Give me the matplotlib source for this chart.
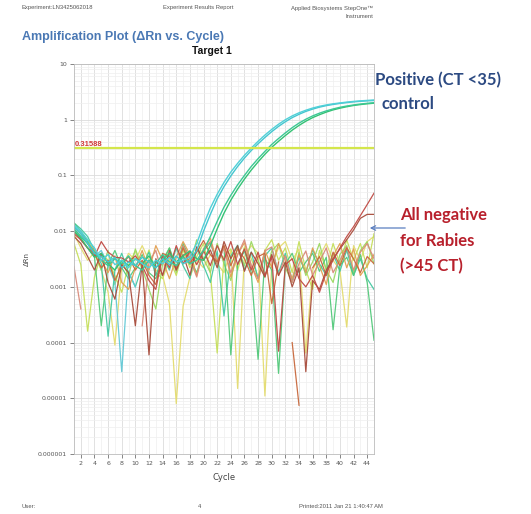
import numpy as np
import matplotlib
matplotlib.use("Agg")
import matplotlib.pyplot as plt
from matplotlib.ticker import FixedLocator, LogLocator, NullFormatter

W, H = 531, 514
cycles = list(range(1, 46))
threshold = 0.31588

# positive control curves (cyan x2, green x2)
pos_cyan1 = [13e-3, 10e-3, 7e-3, 5e-3, 3e-3, 3.8e-3, 2.5e-3, 3e-3, 2.2e-3, 3.2e-3, 2.6e-3, 2.2e-3, 3e-3, 2.6e-3, 3.4e-3, 2.8e-3, 3e-3,
             0.0035, 0.006, 0.013, 0.026, 0.046, 0.075, 0.115, 0.165, 0.23, 0.31, 0.41, 0.53, 0.67, 0.83, 1.0, 1.17, 1.33,
             1.48, 1.62, 1.74, 1.84, 1.93, 2.0, 2.07, 2.13, 2.18, 2.22, 2.26]
pos_cyan2 = [12e-3, 9e-3, 6e-3, 4e-3, 3.5e-3, 2.8e-3, 3.4e-3, 2.2e-3, 2.8e-3, 2.4e-3, 3.4e-3, 2.8e-3, 2.2e-3, 3.2e-3, 2.5e-3, 3.6e-3, 2.6e-3,
             0.003, 0.0045, 0.010, 0.020, 0.038, 0.063, 0.098, 0.145, 0.205, 0.28, 0.37, 0.48, 0.61, 0.76, 0.92, 1.09, 1.25,
             1.41, 1.55, 1.68, 1.79, 1.88, 1.96, 2.03, 2.09, 2.14, 2.18, 2.21]
pos_green1 = [11e-3, 8e-3, 6e-3, 4.2e-3, 3e-3, 2.4e-3, 3.2e-3, 2.6e-3, 3.6e-3, 2.4e-3, 2e-3, 3e-3, 2.6e-3, 3.8e-3, 2.8e-3, 2.4e-3, 3.4e-3, 2.6e-3,
              0.003, 0.0045, 0.008, 0.015, 0.027, 0.044, 0.068, 0.10, 0.145, 0.20, 0.27, 0.36, 0.46, 0.58, 0.72, 0.87,
              1.02, 1.17, 1.31, 1.44, 1.56, 1.67, 1.76, 1.84, 1.91, 1.97, 2.02]
pos_green2 = [10e-3, 7.5e-3, 5e-3, 3.4e-3, 4e-3, 2.6e-3, 2e-3, 3e-3, 2.4e-3, 3.2e-3, 2.6e-3, 3.6e-3, 2.2e-3, 3e-3, 4e-3, 2.8e-3, 3.6e-3, 4.4e-3, 3.2e-3,
              0.003, 0.0055, 0.011, 0.021, 0.036, 0.057, 0.086, 0.125, 0.175, 0.24, 0.32, 0.41, 0.52, 0.65, 0.79,
              0.94, 1.09, 1.23, 1.37, 1.50, 1.61, 1.71, 1.80, 1.87, 1.93, 1.98]

# negative samples (noise), None = no value
neg_red1 = [9e-3, 7e-3, 5e-3, 3.5e-3, 6.5e-3, 4.2e-3, 3.4e-3, 3.3e-3, 2.8e-3, 3.6e-3, 2.4e-3, 1.3e-3, 0.9e-3, 3.8e-3, 2.2e-3,
            5.5e-3, 2.6e-3, 4.4e-3, 2.5e-3, 4.5e-3, 2.4e-3, 5.5e-3, 3e-3, 6.5e-3, 2.5e-3, 4.8e-3, 2e-3, 4.2e-3, 1.6e-3, 3.5e-3,
            7e-5, 2.5e-3, 3.2e-3, 1.4e-3, 1.0e-3, 1.6e-3, 0.8e-3, 1.8e-3, 3e-3, 5e-3, 8e-3, 12e-3, 19e-3, 30e-3, 48e-3]
neg_red2 = [8e-3, 6e-3, 3.5e-3, 2e-3, 4e-3, 1.2e-3, 0.6e-3, 2.5e-3, 1.8e-3, 0.2e-3, 2.6e-3, 6e-5, 3.2e-3, 1.6e-3, 4.5e-3,
            2e-3, 3.8e-3, 1.6e-3, 5.2e-3, 3e-3, 4.6e-3, 2.2e-3, 6.5e-3, 3.2e-3, 5.5e-3, 1.9e-3, 4.2e-3, 2.6e-3, 1.5e-3, 3.8e-3,
            1.6e-3, 2.8e-3, 1.0e-3, 2.2e-3, 3e-5, 1.3e-3, 0.9e-3, 2.0e-3, 3.2e-3, 4.8e-3, 7e-3, 10.5e-3, 17e-3, 20e-3, 20e-3]
neg_brown = [10e-3, 7e-3, 5e-3, 4e-3, 2.2e-3, 3e-3, 1.3e-3, 2.5e-3, 3.5e-3, 2e-3, 3e-3, 1.6e-3, 1.1e-3, 4e-3, 3.5e-3,
             2.2e-3, 5e-3, 2.6e-3, 4.2e-3, 6.8e-3, 3.8e-3, 2.8e-3, 5.6e-3, 2.4e-3, 4.8e-3, 3.2e-3, 1.6e-3, 3.5e-3, 4e-3, 0.5e-3,
             2.8e-3, None, 1e-4, 7.5e-6, None, 2.2e-3, 3.5e-3, 1.6e-3, 4.2e-3, 2.4e-3, 5e-3, 3.2e-3, 1.8e-3, 3.5e-3, 2.6e-3]
neg_pink = [2.3e-3, 4e-4, None, None, None, None, None, None, None, None, 2e-4, 2.8e-3, 4.5e-3, 1.6e-3, 3.8e-3,
            2e-3, 5.5e-3, 3.2e-3, 1.5e-3, 4.8e-3, 6.5e-3, 2.6e-3, 5e-3, 1.8e-3, 3.8e-3, 7e-3, 2.4e-3, 1.4e-3, 4.4e-3, 5.2e-3,
            1.6e-3, 3.6e-3, 1.2e-3, 2.6e-3, 4.4e-3, 1.6e-3, 2.8e-3, 5e-3, 1.8e-3, 3e-3, 5.2e-3, 2e-3, 4.2e-3, 6e-3, 3.2e-3]
neg_orange = [11e-3, 8e-3, 6e-3, 4.5e-3, 3e-3, 1.8e-3, 3.6e-3, 1.2e-3, 0.9e-3, 2.2e-3, 4.5e-3, 2e-3, 5.5e-3, 3e-3, 1.4e-3,
              3.4e-3, 6.5e-3, 3.8e-3, 1.6e-3, 4.8e-3, 7.5e-3, 2.8e-3, 5.2e-3, 1.5e-3, 3.8e-3, 6.2e-3, 2.4e-3, 1.2e-3, 4.6e-3, 2.2e-3,
              6e-3, 3e-3, 1.4e-3, 3.8e-3, 1.8e-3, 5e-3, 2.4e-3, 1.1e-3, 3.6e-3, 6e-3, 2.2e-3, 4.8e-3, 1.6e-3, 2.4e-3, 3.8e-3]
neg_yellow = [9e-3, 5e-3, 3e-3, 4.2e-3, 2e-3, 0.8e-3, 9e-5, 2.2e-3, 4e-3, 3e-3, 5.5e-3, 3e-3, 2e-3, 1.6e-3, 0.5e-3,
              8e-6, 4.5e-4, 1.5e-3, 3e-3, 2.2e-3, 3.8e-3, 2.6e-3, 1.8e-3, 4.5e-3, 1.5e-5, 3.5e-3, 5.5e-3, 4e-3, 1.1e-5, 2.5e-3,
              5e-3, 6.5e-3, 3e-3, 4.8e-3, 6.5e-5, 2e-3, 3.5e-3, 6e-3, 3e-3, 2e-3, 1.9e-4, 5.5e-3, 3e-3, 6.5e-3, 8e-3]
neg_ygreen = [6e-3, 2.5e-3, 1.6e-4, 1.5e-3, 4e-3, 3e-3, 1.6e-3, 0.8e-3, 2.5e-3, 4.4e-3, 2e-3, 4.6e-3, 1.8e-3, 1.4e-3, 3.2e-3,
              1.6e-3, 4.6e-3, 2.2e-3, 3.5e-3, 6e-3, 1.8e-3, 6.5e-5, 3.5e-3, 4.8e-3, 2e-3, 5.2e-3, 3.2e-3, 1.5e-3, 4.5e-3, 7e-3,
              3e-3, 5e-3, 1.8e-3, 6.5e-3, 2e-3, 0.9e-3, 4.5e-3, 2e-3, 6e-3, 2.6e-3, 7e-3, 3e-3, 6e-3, 2.2e-3, 9e-3]
neg_lgreen = [12e-3, 9e-3, 7e-3, 4e-3, 2e-3, 4.5e-3, 1.1e-3, 3e-3, 1.6e-3, 4.8e-3, 2.2e-3, 0.9e-3, 0.4e-3, 2.6e-3, 5e-3,
              1.8e-3, 5.5e-3, 2.5e-3, 7e-3, 3.2e-3, 1.8e-3, 6e-3, 2.6e-3, 1.3e-3, 5.2e-3, 2.4e-3, 6.5e-3, 3e-3, 1.5e-3, 4.4e-3,
              6e-3, 2.2e-3, 1.2e-3, 4.2e-3, 1.6e-3, 2.8e-3, 6e-3, 2e-3, 1.2e-3, 3.8e-3, 5.5e-3, 1.8e-3, 4.5e-3, 6.5e-3, 2.6e-3]
neg_green = [14e-3, 10e-3, 6.5e-3, 3.5e-3, 2e-4, 2.5e-3, 4.5e-3, 2.2e-3, 1.4e-3, 2.2e-3, 3.8e-3, 1.8e-3, 1.4e-3, 3e-3, 5e-3,
             2.2e-3, 6e-3, 3.2e-3, 1.8e-3, 4.4e-3, 6.2e-3, 2.6e-3, 5.2e-3, 6e-5, 2.6e-3, 4.4e-3, 1.8e-3, 5e-5, 3.2e-3, 2e-3,
             2.8e-5, 2.6e-3, 4e-3, 1.8e-3, 2.8e-3, 4e-3, 1.9e-3, 3.4e-3, 1.7e-4, 2.4e-3, 3.4e-3, 1.6e-3, 3.8e-3, 1.2e-3, 1.1e-4]
neg_teal = [14e-3, 11e-3, 8e-3, 4.5e-3, 2.6e-3, 1.3e-4, 2e-3, 4e-3, 1.8e-3, 1.0e-3, 2.4e-3, 4.2e-3, 1.6e-3, 3.4e-3, 2e-3,
            5e-3, 2.4e-3, 1.4e-3, 5.2e-3, 2.4e-3, 1.2e-3, 4.4e-3, 3e-4, 3.6e-3, 5.6e-3, 2e-3, 4.2e-3, 1.4e-3, 3.6e-3, 5e-3,
            1.8e-3, 4e-3, 1.3e-3, 3.4e-3, 1.8e-3, 4.6e-3, 2.6e-3, 1.6e-3, 4e-3, 1.9e-3, 4.6e-3, 1.6e-3, 3.2e-3, 1.4e-3, 0.9e-3]
neg_cyan = [12e-3, 9e-3, 6e-3, 3.5e-3, 4.5e-3, 2.5e-3, 1.2e-3, 3e-5, 1.9e-3, 1e-3, None, None, None, None, None,
            None, None, None, None, None, None, None, None, None, None, None, None, None, None, None,
            None, None, None, None, None, None, None, None, None, None, None, None, None, None, None]

negatives = [
    (neg_yellow, '#e4dc70'), (neg_ygreen, '#c6df5c'), (neg_lgreen, '#9cd862'),
    (neg_teal, '#44c9a2'), (neg_green, '#52c97a'), (neg_cyan, '#62c9d6'),
    (neg_orange, '#e2a052'), (neg_pink, '#d98a7a'), (neg_brown, '#c8683c'),
    (neg_red2, '#a84c3c'), (neg_red1, '#c04a44'),
]
positives = [(pos_green2, '#34c274'), (pos_green1, '#3cc895'),
             (pos_cyan2, '#44c6cf'), (pos_cyan1, '#50d0d8')]

ytick_vals = [10, 1, 0.1, 0.01, 0.001, 0.0001, 0.00001, 0.000001]
ytick_labels = ['10', '1', '0.1', '0.01', '0.001', '0.0001', '0.00001', '0.000001']
xtick_vals = list(range(2, 45, 2))

fig = plt.figure(figsize=(W / 100, H / 100), dpi=100)
fig.patch.set_facecolor('white')

def fx(px):
    return px / W

def fy(py):
    return 1 - py / H

ax = fig.add_axes([fx(74), fy(454), fx(374) - fx(74), fy(64) - fy(454)])
ax.set_yscale('log')
ax.set_xlim(1, 44.6)
ax.set_ylim(1e-6, 10)

x = np.array(cycles, dtype=float)
for vals, col in negatives:
    ax.plot(x, np.array(vals, dtype=float), color=col, lw=0.9, alpha=0.95)
for vals, col in positives:
    ax.plot(x, np.array(vals, dtype=float), color=col, lw=1.0)

ax.axhline(threshold, color='#d4e64c', lw=1.6)
ax.text(1.15, threshold, '0.31588', color='#d23a3a', fontsize=5.5, fontweight='bold',
        va='bottom', ha='left', family='Liberation Sans')

ax.yaxis.set_major_locator(FixedLocator(ytick_vals))
ax.set_yticklabels(ytick_labels)
ax.yaxis.set_minor_locator(LogLocator(base=10, subs=np.arange(2, 10), numticks=20))
ax.yaxis.set_minor_formatter(NullFormatter())
ax.set_xticks(xtick_vals)
ax.set_xticklabels([str(v) for v in xtick_vals])
ax.set_xticks(cycles, minor=True)
ax.grid(which='major', color='#dcdcdc', lw=0.6)
ax.grid(which='minor', color='#efefef', lw=0.5)
ax.set_axisbelow(True)
ax.tick_params(axis='both', which='major', labelsize=4.5, colors='#555555', length=3, width=0.5, pad=2)
ax.tick_params(axis='both', which='minor', length=0)
for s in ax.spines.values():
    s.set_color('#bbbbbb')
    s.set_linewidth(0.6)

ax.set_xlabel('Cycle', fontsize=6, color='#444444', labelpad=5)
ax.set_ylabel('ΔRn', fontsize=5, color='#444444', labelpad=6)

# report header / footer
hdr = dict(fontsize=4.2, color='#555555', family='Liberation Sans')
fig.text(fx(22), fy(8), 'Experiment:LN3425062018', va='center', ha='left', **hdr)
fig.text(fx(198), fy(8), 'Experiment Results Report', va='center', ha='center', **hdr)
fig.text(fx(373), fy(8), 'Applied Biosystems StepOne™', va='center', ha='right', **hdr)
fig.text(fx(373), fy(16), 'Instrument', va='center', ha='right', **hdr)
fig.text(fx(22), fy(37), 'Amplification Plot (ΔRn vs. Cycle)', fontsize=9, fontweight='bold',
         color='#4a78b4', va='center', ha='left', family='Liberation Sans')
fig.text(fx(212), fy(51), 'Target 1', fontsize=7.5, fontweight='bold', color='#111111',
         va='center', ha='center', family='Liberation Sans')
fig.text(fx(22), fy(507), 'User:', va='center', ha='left', **hdr)
fig.text(fx(200), fy(507), '4', va='center', ha='center', **hdr)
fig.text(fx(383), fy(507), 'Printed:2011 Jan 21 1:40:47 AM', va='center', ha='right', **hdr)

# annotations
ann_blue = '#2c4a82'
ann_red = '#b8202c'
fig.text(fx(375), fy(80), 'Positive (CT <35)', fontsize=12, fontweight='bold', color=ann_blue,
         va='center', ha='left', family='Lato')
fig.text(fx(381), fy(104), 'control', fontsize=12, fontweight='bold', color=ann_blue,
         va='center', ha='left', family='Lato')
for txt, yy in [('All negative', 215), ('for Rabies', 241), ('(>45 CT)', 266)]:
    fig.text(fx(400), fy(yy), txt, fontsize=12, fontweight='bold', color=ann_red,
             va='center', ha='left', family='Lato')
fig.add_artist(matplotlib.patches.FancyArrowPatch((fx(408), fy(228)), (fx(367), fy(228)),
               transform=fig.transFigure, arrowstyle='->', mutation_scale=8,
               color='#5a7ec0', lw=0.9))

fig.savefig('out.png', dpi=100, facecolor='white')
